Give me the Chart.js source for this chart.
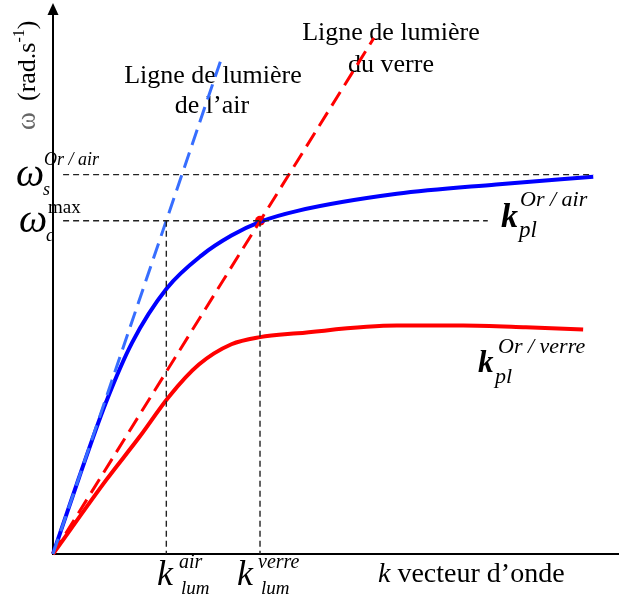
<!DOCTYPE html>
<html>
<head>
<meta charset="utf-8">
<script src="https://cdn.jsdelivr.net/npm/chart.js@4"></script>
<style>
  body { margin: 0; background: #fff; }
  canvas { display: block; }
</style>
</head>
<body>
<canvas id="myChart" width="619" height="601"></canvas>
<script>
'use strict';

// plasmon de surface, interface or / air
var kPlAir = [0, 0.46, 0.94, 1.41, 2.03, 2.65, 3.18, 3.69, 4.36, 6.13, 7.90, 9.63];
var wPlAir = [0, 1.38, 2.75, 3.85, 4.84, 5.44, 5.80, 6.05, 6.25, 6.56, 6.73, 6.87];

// plasmon de surface, interface or / verre
var kPlVerre = [0, 0.95, 1.54, 2.07, 2.60, 3.18, 3.69, 4.36, 6.13, 7.31, 8.43, 9.45];
var wPlVerre = [0, 1.35, 2.13, 2.87, 3.45, 3.82, 3.95, 4.02, 4.16, 4.16, 4.13, 4.09];

// lignes de lumiere (droites)
var kLumAirLine = [0, 3.00];
var wLumAirLine = [0, 9.02];
var kLumVerreLine = [0, 5.72];
var wLumVerreLine = [0, 9.40];

// valeurs remarquables
var wS = 6.91;
var wC = 6.07;
var kLumAir = 2.02;
var kLumVerre = 3.69;
var kRefStart = 0.18;
var kRefEndS = 9.63;
var kRefEndC = 7.75;

function pts(xs, ys) {
    var out = [];
    for (var i = 0; i < xs.length; i++) {
        out.push({ x: xs[i], y: ys[i] });
    }
    return out;
}

var serif = '"Liberation Serif", "Times New Roman", serif';

function txt(ctx, s, x, y, font, color) {
    ctx.font = font;
    ctx.fillStyle = color || '#000';
    ctx.fillText(s, x, y);
}

var decor = {
    id: 'decor',
    beforeDatasetsDraw: function (chart) {
        var ctx = chart.ctx;
        var sx = chart.scales.x;
        var sy = chart.scales.y;
        var x0 = sx.getPixelForValue(0);
        var y0 = sy.getPixelForValue(0);
        ctx.save();

        // axes
        ctx.strokeStyle = '#000';
        ctx.lineWidth = 2;
        ctx.beginPath();
        ctx.moveTo(x0, y0 + 1);
        ctx.lineTo(x0, 12);
        ctx.moveTo(x0 - 1, y0);
        ctx.lineTo(chart.width, y0);
        ctx.stroke();
        ctx.fillStyle = '#000';
        ctx.beginPath();
        ctx.moveTo(x0, 3);
        ctx.lineTo(x0 - 5.5, 15);
        ctx.lineTo(x0 + 5.5, 15);
        ctx.closePath();
        ctx.fill();

        ctx.textAlign = 'left';
        ctx.textBaseline = 'alphabetic';

        // titre axe vertical
        ctx.save();
        ctx.translate(35, 0);
        ctx.rotate(-Math.PI / 2);
        txt(ctx, 'ω', -130, 0, '27px ' + serif, '#666');
        txt(ctx, '(rad.s', -101, 0, '26px ' + serif);
        ctx.font = '26px ' + serif;
        var w1 = ctx.measureText('(rad.s').width;
        txt(ctx, '-1', -101 + w1, -11, '16px ' + serif);
        ctx.font = '16px ' + serif;
        var w2 = ctx.measureText('-1').width;
        txt(ctx, ')', -101 + w1 + w2, 0, '26px ' + serif);
        ctx.restore();

        // lignes de lumiere
        ctx.textAlign = 'center';
        txt(ctx, 'Ligne de lumière', 213, 83, '26px ' + serif);
        txt(ctx, 'de l’air', 212, 113, '26px ' + serif);
        txt(ctx, 'Ligne de lumière', 391, 40, '26px ' + serif);
        txt(ctx, 'du verre', 391, 72, '26px ' + serif);
        ctx.textAlign = 'left';

        // omega_s et omega_c
        txt(ctx, 'ω', 16, 186, 'italic 40px ' + serif);
        txt(ctx, 's', 43, 195, 'italic 18px ' + serif);
        txt(ctx, 'Or / air', 44, 165, 'italic 18px ' + serif);
        txt(ctx, 'max', 48, 213, '19px ' + serif);
        txt(ctx, 'ω', 19, 232, 'italic 40px ' + serif);
        txt(ctx, 'c', 46, 241, 'italic 18px ' + serif);

        // k_pl
        txt(ctx, 'k', 501, 227, 'bold italic 34px ' + serif);
        txt(ctx, 'pl', 519, 237, 'italic 23px ' + serif);
        txt(ctx, 'Or / air', 520, 206, 'italic 22px ' + serif);
        txt(ctx, 'k', 478, 372, 'bold italic 31px ' + serif);
        txt(ctx, 'pl', 495, 383, 'italic 22px ' + serif);
        txt(ctx, 'Or / verre', 498, 353, 'italic 22px ' + serif);

        // k_lum
        txt(ctx, 'k', 157, 585, 'italic 36px ' + serif);
        txt(ctx, 'air', 179, 568, 'italic 20px ' + serif);
        txt(ctx, 'lum', 181, 594, 'italic 19px ' + serif);
        txt(ctx, 'k', 237, 585, 'italic 36px ' + serif);
        txt(ctx, 'verre', 258, 568, 'italic 20px ' + serif);
        txt(ctx, 'lum', 261, 594, 'italic 19px ' + serif);

        // titre axe horizontal
        txt(ctx, 'k', 378, 582, 'italic 28px ' + serif);
        ctx.font = 'italic 28px ' + serif;
        var wk = ctx.measureText('k ').width;
        txt(ctx, 'vecteur d’onde', 378 + wk, 582, '28px ' + serif);

        ctx.restore();
    }
};

var refStyle = {
    borderColor: '#222',
    borderWidth: 1.4,
    borderDash: [6, 4],
    pointRadius: 0,
    showLine: true,
    fill: false
};

function refLine(xs, ys) {
    return Object.assign({ data: pts(xs, ys) }, refStyle);
}

var ctx = document.getElementById('myChart').getContext('2d');
var chart = new Chart(ctx, {
    type: 'scatter',
    data: {
        datasets: [
            refLine([kRefStart, kRefEndS], [wS, wS]),
            refLine([kRefStart, kRefEndC], [wC, wC]),
            refLine([kLumAir, kLumAir], [wC, 0]),
            refLine([kLumVerre, kLumVerre], [wC, 0]),
            {
                // ligne de lumiere de l'air
                data: pts(kLumAirLine, wLumAirLine),
                showLine: true,
                borderColor: 'rgb(55, 110, 255)',
                borderWidth: 3,
                borderDash: [16, 8],
                pointRadius: 0
            },
            {
                // ligne de lumiere du verre
                data: pts(kLumVerreLine, wLumVerreLine),
                showLine: true,
                borderColor: 'rgb(255, 0, 0)',
                borderWidth: 3,
                borderDash: [16, 8],
                pointRadius: 0
            },
            {
                data: pts(kPlVerre, wPlVerre),
                showLine: true,
                borderColor: 'rgb(255, 0, 0)',
                borderWidth: 4,
                cubicInterpolationMode: 'monotone',
                pointRadius: 0
            },
            {
                data: pts(kPlAir, wPlAir),
                showLine: true,
                borderColor: 'rgb(0, 0, 255)',
                borderWidth: 4,
                cubicInterpolationMode: 'monotone',
                pointRadius: 0
            },
            {
                // intersection ligne du verre / plasmon or-air
                data: [{ x: kLumVerre, y: wC }],
                pointRadius: 5,
                pointBackgroundColor: 'rgb(255, 0, 0)',
                pointBorderWidth: 0
            }
        ]
    },
    options: {
        responsive: false,
        animation: false,
        layout: { padding: { left: 53, right: 0, top: 4, bottom: 47 } },
        scales: {
            x: { type: 'linear', min: 0, max: 10, display: false },
            y: { type: 'linear', min: 0, max: 10, display: false }
        },
        plugins: {
            legend: { display: false },
            tooltip: { enabled: false }
        },
        clip: false
    },
    plugins: [decor]
});
</script>
</body>
</html>
